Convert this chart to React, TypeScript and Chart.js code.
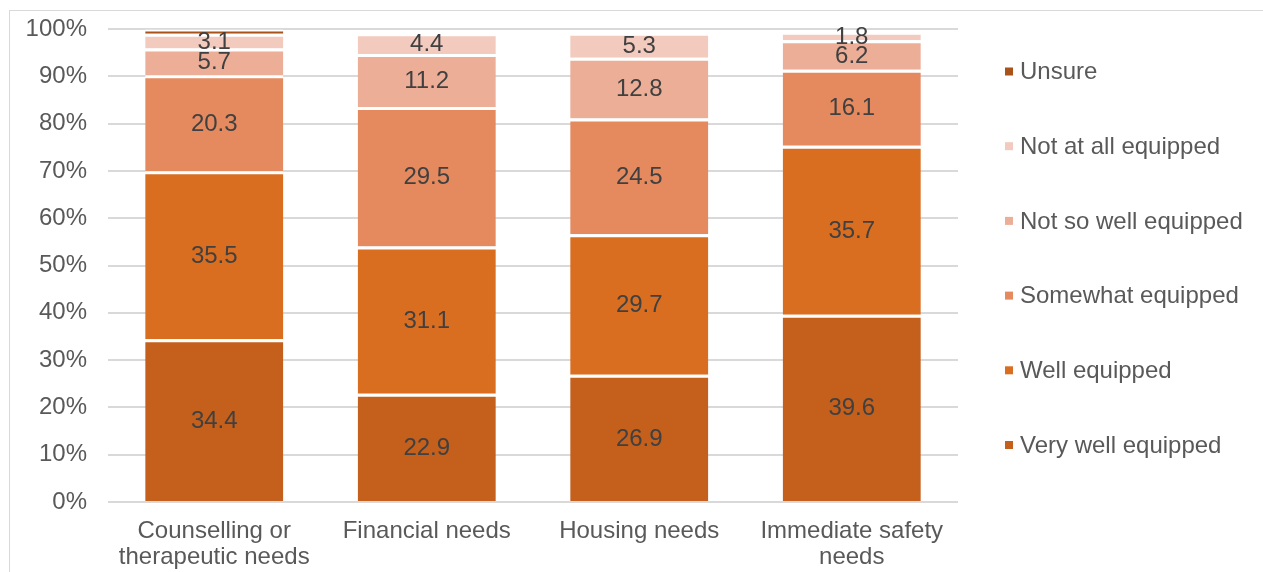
import React, { useEffect, useRef } from "react";
import { Chart, registerables } from "chart.js";

Chart.register(...registerables);

const categories: (string | string[])[] = [
  ["Counselling or", "therapeutic needs"],
  "Financial needs",
  "Housing needs",
  ["Immediate safety", "needs"],
];

const veryWellEquipped = [34.4, 22.9, 26.9, 39.6];
const wellEquipped = [35.5, 31.1, 29.7, 35.7];
const somewhatEquipped = [20.3, 29.5, 24.5, 16.1];
const notSoWellEquipped = [5.7, 11.2, 12.8, 6.2];
const notAtAllEquipped = [3.1, 4.4, 5.3, 1.8];
const unsure = [0.9, 0, 0, 0];

const seriesNames = [
  "Very well equipped",
  "Well equipped",
  "Somewhat equipped",
  "Not so well equipped",
  "Not at all equipped",
  "Unsure",
];
const seriesValues = [
  veryWellEquipped,
  wellEquipped,
  somewhatEquipped,
  notSoWellEquipped,
  notAtAllEquipped,
  unsure,
];
const seriesColors = ["#C45F1C", "#D96E20", "#E5895E", "#ECAE97", "#F2CABE", "#A9531B"];
const labelledSeries = [true, true, true, true, true, false];

const yTickValues = [0, 10, 20, 30, 40, 50, 60, 70, 80, 90, 100];

const FONT = "'Liberation Sans', Arial, sans-serif";

const dataLabelPlugin = {
  id: "dataLabels",
  afterDatasetsDraw(chart: any) {
    const ctx = chart.ctx;
    ctx.save();
    ctx.font = `24px ${FONT}`;
    ctx.fillStyle = "#404040";
    ctx.textAlign = "center";
    ctx.textBaseline = "middle";
    chart.data.datasets.forEach((ds: any, i: number) => {
      if (!labelledSeries[i]) return;
      const meta = chart.getDatasetMeta(i);
      meta.data.forEach((el: any, j: number) => {
        const v = ds.data[j];
        if (!v) return;
        const props = el.getProps(["x", "y", "base"], true);
        ctx.fillText(v.toFixed(1), props.x, (props.y + props.base) / 2 + 1);
      });
    });
    ctx.restore();
  },
};

const legendPlugin = {
  id: "sideLegend",
  afterDraw(chart: any) {
    const ctx = chart.ctx;
    const top = 71.5;
    const step = 74.7;
    const markerX = 1005;
    const textX = 1020;
    ctx.save();
    ctx.font = `24px ${FONT}`;
    ctx.textBaseline = "middle";
    ctx.textAlign = "left";
    const n = chart.data.datasets.length;
    for (let k = 0; k < n; k++) {
      const i = n - 1 - k;
      const ds = chart.data.datasets[i];
      const y = top + k * step;
      ctx.fillStyle = ds.backgroundColor;
      ctx.fillRect(markerX, y - 4, 8, 8);
      ctx.fillStyle = "#595959";
      ctx.fillText(ds.label, textX, y + 1);
    }
    ctx.restore();
  },
};

export default function App() {
  const canvasRef = useRef<HTMLCanvasElement | null>(null);

  useEffect(() => {
    if (!canvasRef.current) return;
    const chart = new Chart(canvasRef.current, {
      type: "bar",
      data: {
        labels: categories as any,
        datasets: seriesNames.map((name, i) => ({
          label: name,
          data: seriesValues[i],
          backgroundColor: seriesColors[i],
          borderColor: "#FFFFFF",
          borderWidth: { top: 3, bottom: 0, left: 0, right: 0 },
          borderSkipped: false,
          barPercentage: 0.65,
          categoryPercentage: 1.0,
        })),
      },
      options: {
        responsive: false,
        animation: false,
        events: [],
        layout: { padding: { top: 29, right: 305, bottom: 0, left: 0 } },
        plugins: {
          legend: { display: false },
          tooltip: { enabled: false },
          title: { display: false },
        },
        scales: {
          x: {
            stacked: true,
            grid: { display: false, drawTicks: false },
            border: { display: false },
            ticks: {
              font: { size: 24, family: FONT, lineHeight: 1.1 },
              color: "#595959",
              padding: 16,
              maxRotation: 0,
              autoSkip: false,
            },
            afterFit: (s: any) => {
              s.height = 70;
              s.paddingLeft = 0;
              s.paddingRight = 0;
            },
          },
          y: {
            stacked: true,
            min: 0,
            max: 100,
            afterBuildTicks: (s: any) => {
              s.ticks = yTickValues.map((v) => ({ value: v }));
            },
            ticks: {
              font: { size: 24, family: FONT },
              color: "#595959",
              padding: 21,
              callback: (v: any) => `${v}%`,
            },
            grid: { color: "#D9D9D9", lineWidth: 2, drawTicks: false },
            border: { display: false },
            afterFit: (s: any) => {
              s.width = 108;
              s.paddingTop = 0;
              s.paddingBottom = 0;
            },
          },
        },
      },
      plugins: [dataLabelPlugin, legendPlugin],
    } as any);
    return () => chart.destroy();
  }, []);

  return (
    <div
      style={{
        position: "fixed",
        left: 0,
        top: 0,
        width: 1263,
        height: 572,
        background: "#FFFFFF",
        overflow: "hidden",
      }}
    >
      <div
        style={{
          position: "absolute",
          left: 9,
          top: 10,
          width: 1400,
          height: 700,
          borderLeft: "1px solid #D9D9D9",
          borderTop: "1px solid #D9D9D9",
        }}
      />
      <canvas
        ref={canvasRef}
        width={1263}
        height={572}
        style={{ position: "absolute", left: 0, top: 0, display: "block" }}
      />
    </div>
  );
}
